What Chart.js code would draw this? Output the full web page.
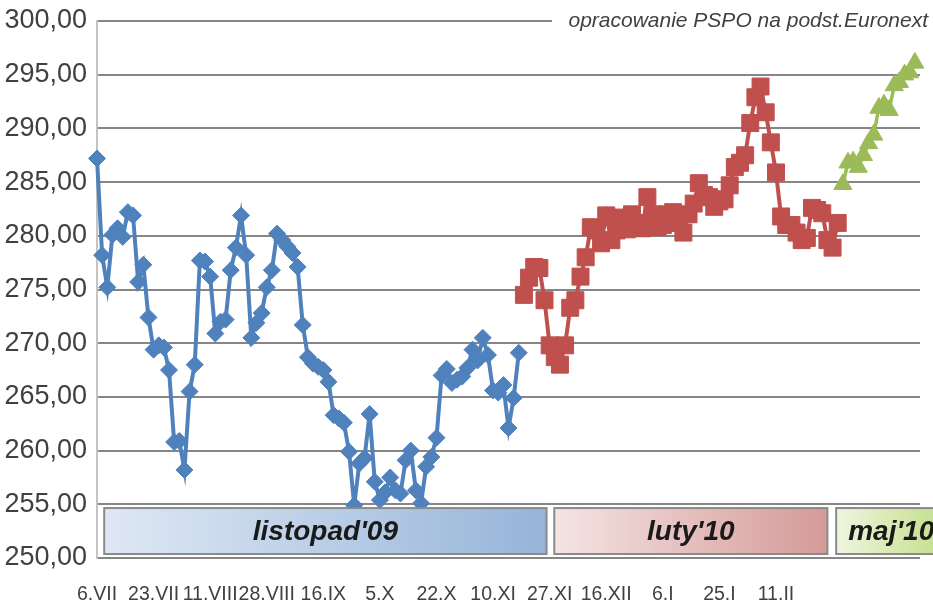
<!DOCTYPE html>
<html>
<head>
<meta charset="utf-8">
<script src="https://cdn.jsdelivr.net/npm/chart.js@4.4.1/dist/chart.umd.min.js"></script>
<style>
  html, body { margin: 0; padding: 0; background: #fff; }
  canvas { display: block; }
</style>
</head>
<body>
<canvas id="chart" width="933" height="606"></canvas>
<script>
// axis labels (one every 11 sessions)
const tickLabels = ["6.VII", "23.VII", "11.VIII", "28.VIII", "16.IX", "5.X", "22.X",
  "10.XI", "27.XI", "16.XII", "6.I", "25.I", "11.II"];
const tickEvery = 11;

// contract listopad'09
const blueValues = [
  287.2, 278.2, 275.2, 280.1, 280.7, 279.9, 282.2, 281.9, 275.7, 277.3,
  272.4, 269.4, 269.8, 269.6, 267.5, 260.8, 260.9, 258.2, 265.5, 268.0,
  277.7, 277.6, 276.2, 270.9, 272.0, 272.2, 276.8, 278.9, 281.9, 278.2,
  270.5, 271.9, 272.8, 275.2, 276.8, 280.2, 279.6, 279.0, 278.4, 277.1,
  271.7, 268.7, 268.1, 267.8, 267.5, 266.4, 263.3, 263.0, 262.6, 259.9,
  254.9, 258.8, 259.3, 263.4, 257.1, 255.4, 256.1, 257.5, 256.3, 256.0,
  259.1, 260.0, 256.3, 255.1, 258.5, 259.4, 261.2, 267.0, 267.6, 266.3,
  266.6, 266.9, 267.7, 269.4, 268.4, 270.5, 268.9, 265.6, 265.4, 266.1,
  262.1, 264.9, 269.1
];
// contract luty'10
const redValues = [
  274.5, 276.1, 277.1, 277.0, 274.0, 269.8, 268.7, 268.0, 269.8, 273.3,
  274.0, 276.2, 278.0, 280.8, 280.5, 279.3, 281.9, 279.6, 280.5, 281.7,
  280.6, 282.0, 281.2, 280.7, 283.6, 282.0, 280.8, 281.0, 282.0, 282.2,
  281.2, 280.3, 282.0, 283.0, 284.9, 283.8, 283.6, 282.7, 283.2, 283.4,
  284.7, 286.4, 286.8, 287.5, 290.5, 292.9, 293.9, 291.5, 288.7, 285.9,
  281.8, 281.0, 281.0, 280.3, 279.6, 279.8, 282.6, 282.4, 282.1, 279.6,
  278.9, 281.2
];
// contract maj'10
const greenValues = [
  284.8, 286.8, 286.9, 286.4, 287.5, 288.6, 289.4, 291.9, 292.2, 291.7,
  294.0, 294.3, 295.0, 295.2, 296.1
];
const bandLabels = ["listopad'09", "luty'10", "maj'10"];
const sourceNote = "opracowanie PSPO na podst.Euronext";

const total = blueValues.length + redValues.length + greenValues.length;
const categories = [];
for (let i = 0; i <= total; i++) {
  const k = i / tickEvery;
  categories.push(Number.isInteger(k) && tickLabels[k] ? tickLabels[k] : "");
}
const pad = n => new Array(n).fill(null);
const blueData = blueValues.concat(pad(total + 1 - blueValues.length));
const redData = pad(blueValues.length).concat(redValues, pad(greenValues.length + 1));
const greenData = pad(blueValues.length + redValues.length).concat(greenValues, [null]);

// bands drawn at the bottom of the plot (x in category index, y in value units)
const bandBoxes = [
  { from: 1.4, to: 87.4, c0: "#dfe8f4", c1: "#96b4d9" },
  { from: 88.9, to: 142.0, c0: "#f4e4e3", c1: "#d49a98" },
  { from: 143.7, to: 170, c0: "#eef5e0", c1: "#c5e08f" }
];

const overlay = {
  id: "overlay",
  afterDatasetsDraw(chart) {
    const { ctx, scales: { x, y } } = chart;
    const top = y.getPixelForValue(254.65);
    const bottom = y.getPixelForValue(250.37);
    ctx.save();
    bandBoxes.forEach((b, i) => {
      const l = x.getPixelForValue(b.from);
      const r = Math.min(x.getPixelForValue(b.to), chart.width + 5);
      const g = ctx.createLinearGradient(l, 0, r, 0);
      g.addColorStop(0, b.c0);
      g.addColorStop(1, b.c1);
      ctx.fillStyle = g;
      ctx.fillRect(l, top, r - l, bottom - top);
      ctx.strokeStyle = "#8a8a8a";
      ctx.lineWidth = 2;
      ctx.strokeRect(l, top, r - l, bottom - top);
      ctx.fillStyle = "#1a1a1a";
      ctx.font = "bold italic 28px 'Liberation Sans Narrow', 'Liberation Sans', sans-serif";
      ctx.textBaseline = "middle";
      if (i === 2) {
        ctx.textAlign = "left";
        ctx.fillText(bandLabels[i], l + 12, (top + bottom) / 2 + 1);
      } else {
        ctx.textAlign = "center";
        ctx.fillText(bandLabels[i], (l + r) / 2, (top + bottom) / 2 + 1);
      }
    });
    // source note, top right
    ctx.fillStyle = "#fff";
    ctx.fillRect(552, 4, chart.width - 552, 32);
    ctx.fillStyle = "#404040";
    ctx.font = "italic 21px 'Liberation Sans', sans-serif";
    ctx.textAlign = "right";
    ctx.textBaseline = "alphabetic";
    ctx.fillText(sourceNote, chart.width - 5, 27);
    ctx.restore();
  }
};

new Chart(document.getElementById("chart"), {
  type: "line",
  data: {
    labels: categories,
    datasets: [
      {
        data: blueData,
        borderColor: "#4f81bd",
        backgroundColor: "#4f81bd",
        borderWidth: 4,
        pointStyle: "rectRot",
        pointRadius: 8.5,
        pointBorderWidth: 1,
        clip: false
      },
      {
        data: redData,
        borderColor: "#c0504d",
        backgroundColor: "#c0504d",
        borderWidth: 4,
        pointStyle: "rect",
        pointRadius: 12,
        pointBorderWidth: 1,
        clip: false
      },
      {
        data: greenData,
        borderColor: "#9bbb59",
        backgroundColor: "#9bbb59",
        borderWidth: 3.5,
        pointStyle: "triangle",
        pointRadius: 10.5,
        pointBorderWidth: 1,
        clip: false
      }
    ]
  },
  options: {
    responsive: false,
    animation: false,
    devicePixelRatio: 1,
    layout: { padding: { top: 21, right: 12, left: 0, bottom: 0 } },
    plugins: { legend: { display: false }, tooltip: { enabled: false } },
    scales: {
      x: {
        offset: false,
        grid: { display: false },
        border: { display: false },
        ticks: {
          autoSkip: false,
          maxRotation: 0,
          padding: 17,
          color: "#404040",
          font: { family: "'Liberation Sans Narrow', 'Liberation Sans', sans-serif", size: 19.5 }
        },
        afterFit(scale) {
          scale.height = 48;
          scale.paddingLeft = 0;
          scale.paddingRight = 0;
        }
      },
      y: {
        min: 250,
        max: 300,
        grid: { color: "#868686", lineWidth: 2, drawTicks: false },
        border: { color: "#c4c4c4", width: 2 },
        ticks: {
          stepSize: 5,
          padding: 10,
          color: "#404040",
          font: { family: "'Liberation Sans Narrow', 'Liberation Sans', sans-serif", size: 27 },
          callback: v => v.toFixed(2).replace(".", ",")
        },
        afterFit(scale) {
          scale.width = 97;
          scale.paddingTop = 0;
          scale.paddingBottom = 0;
        }
      }
    }
  },
  plugins: [overlay]
});
</script>
</body>
</html>
